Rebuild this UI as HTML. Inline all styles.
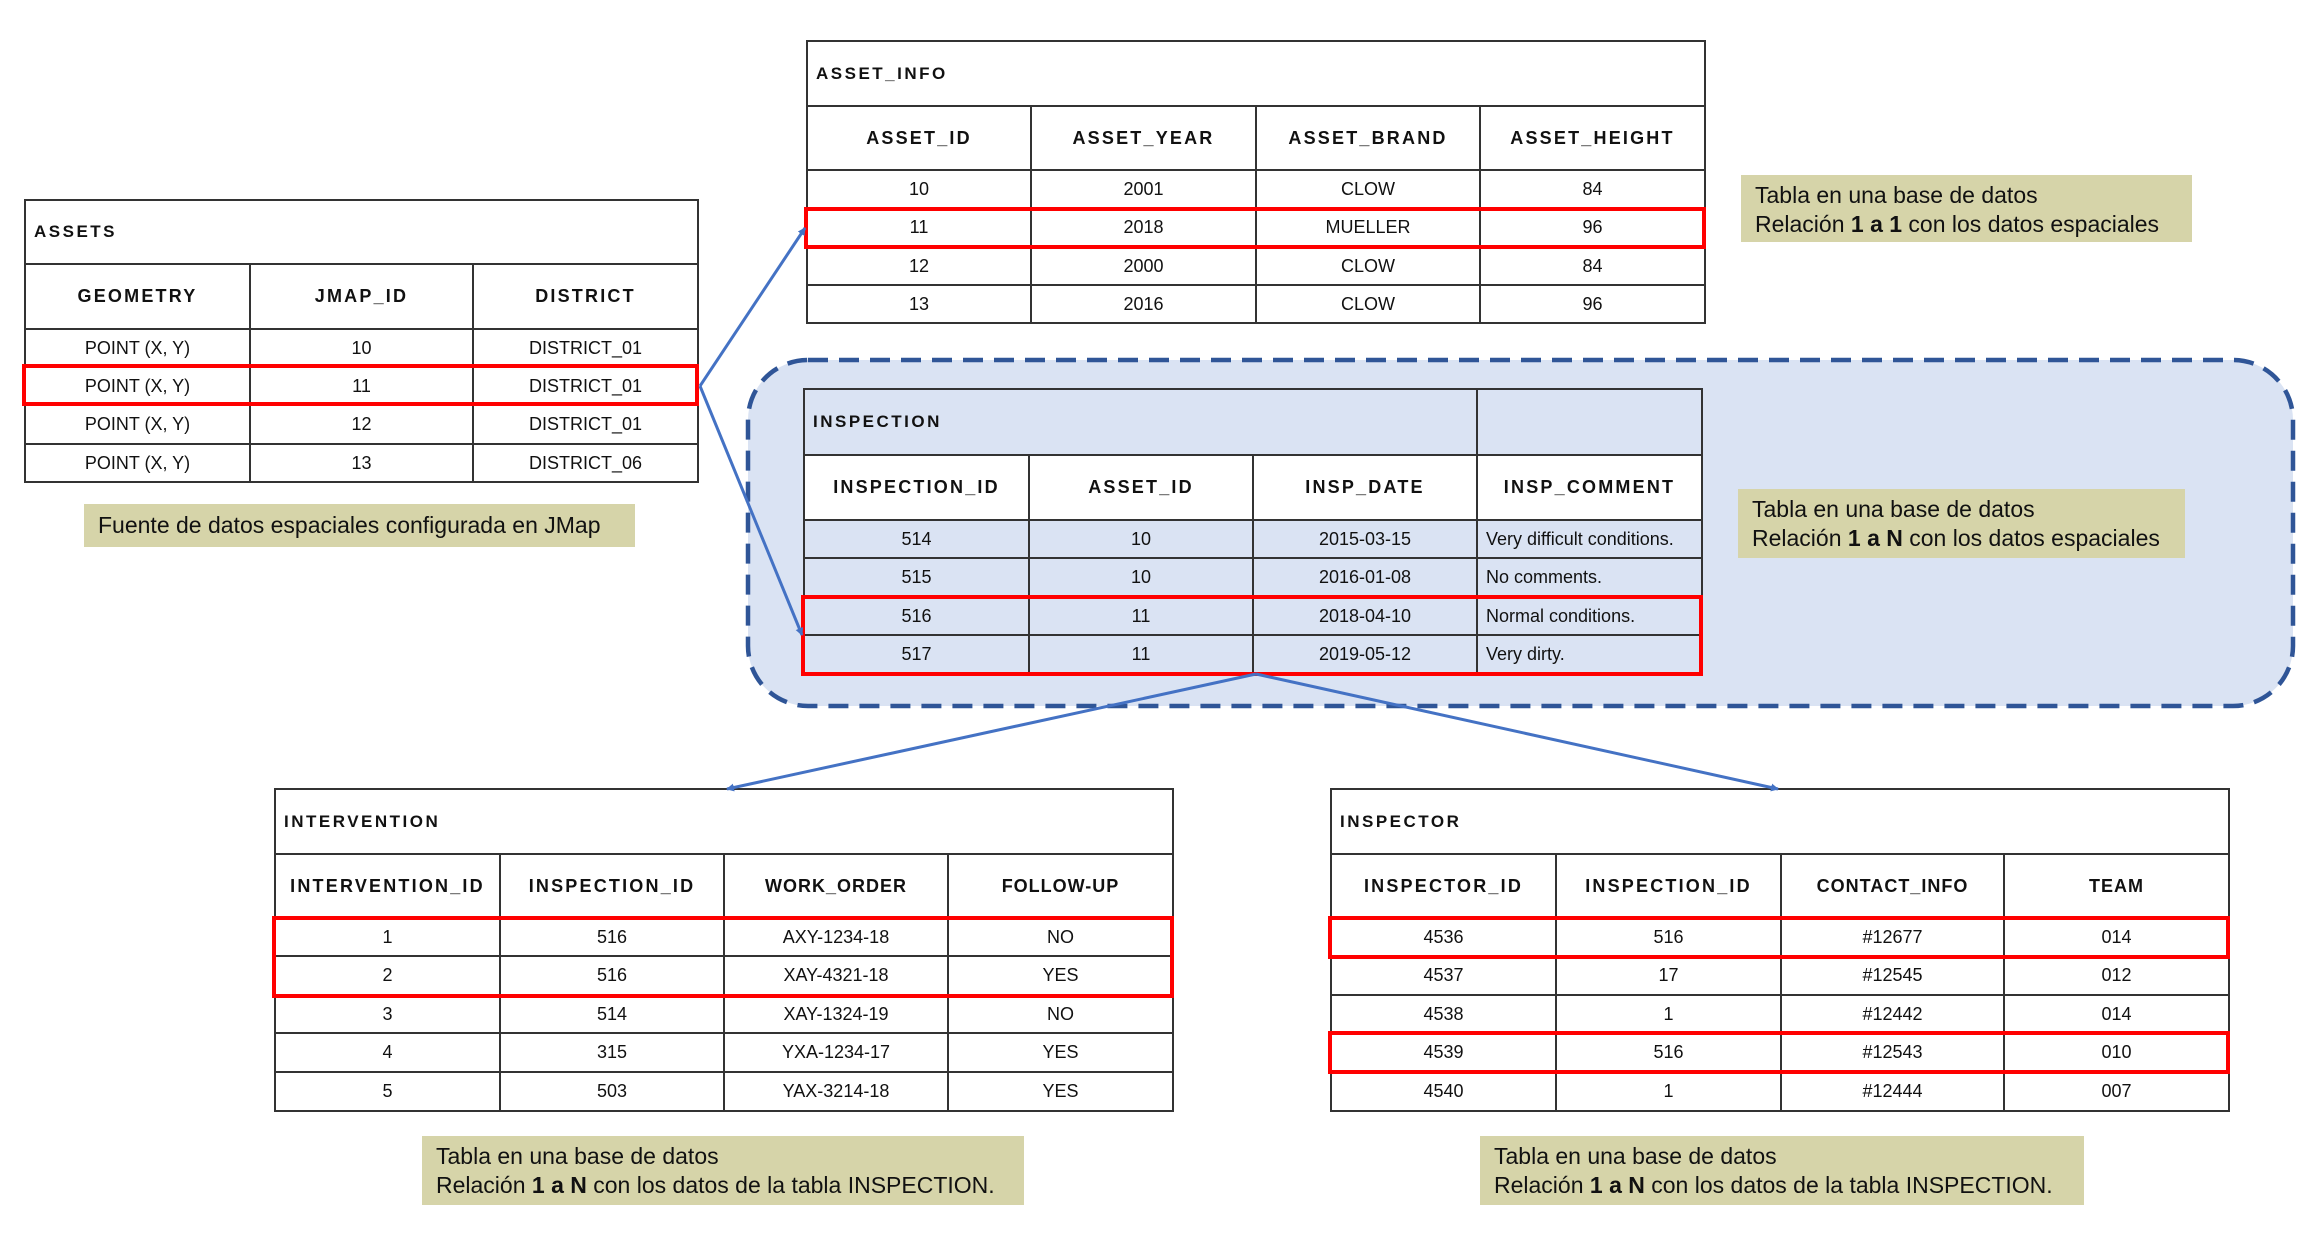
<!DOCTYPE html>
<html><head><meta charset="utf-8"><style>
body{margin:0;width:2304px;height:1247px;background:#fff;position:relative;overflow:hidden;font-family:"Liberation Sans",Arial,sans-serif;color:#111}
table{position:absolute;border-collapse:collapse;table-layout:fixed;border:2px solid #222}
td{border:2px solid #333;text-align:center;font-size:18px;padding:0;white-space:nowrap;overflow:hidden}
td.t{text-align:left;padding-left:8px;font-weight:bold;letter-spacing:2.5px;font-size:17px}
tr.h td{font-weight:bold;letter-spacing:2.2px;font-size:18px}
tr.h td.s{letter-spacing:1px}
td.l{text-align:left;padding-left:8px}
.red{position:absolute;border:4px solid #f00;box-sizing:border-box}
.note{position:absolute;background:#d6d4a9;font-size:23px;line-height:29px;padding:6px 14px;box-sizing:border-box}
</style></head><body>
<svg width="2304" height="1247" style="position:absolute;left:0;top:0" xmlns="http://www.w3.org/2000/svg">
<rect x="748" y="360" width="1545" height="346" rx="60" ry="60" fill="#dae3f3" stroke="#2f5597" stroke-width="4.5" stroke-dasharray="20,11"/>
</svg>

<table style="left:24px;top:199px;width:673px;height:282px">
<colgroup><col style="width:225px"><col style="width:223px"><col style="width:225px"></colgroup>
<tr style="height:64px"><td class="t" colspan="3">ASSETS</td></tr>
<tr class="h" style="height:65px"><td>GEOMETRY</td><td>JMAP_ID</td><td>DISTRICT</td></tr>
<tr style="height:38px"><td>POINT (X, Y)</td><td>10</td><td>DISTRICT_01</td></tr>
<tr style="height:38px"><td>POINT (X, Y)</td><td>11</td><td>DISTRICT_01</td></tr>
<tr style="height:39px"><td>POINT (X, Y)</td><td>12</td><td>DISTRICT_01</td></tr>
<tr style="height:38px"><td>POINT (X, Y)</td><td>13</td><td>DISTRICT_06</td></tr>
</table>
<div class="red" style="left:22px;top:364px;width:677px;height:42px"></div>
<div class="note" style="left:84px;top:504px;width:551px;height:43px;padding-top:7px">Fuente de datos espaciales configurada en JMap</div>

<table style="left:806px;top:40px;width:898px;height:282px">
<colgroup><col style="width:224px"><col style="width:225px"><col style="width:224px"><col style="width:225px"></colgroup>
<tr style="height:65px"><td class="t" colspan="4">ASSET_INFO</td></tr>
<tr class="h" style="height:64px"><td>ASSET_ID</td><td>ASSET_YEAR</td><td>ASSET_BRAND</td><td>ASSET_HEIGHT</td></tr>
<tr style="height:38px"><td>10</td><td>2001</td><td>CLOW</td><td>84</td></tr>
<tr style="height:39px"><td>11</td><td>2018</td><td>MUELLER</td><td>96</td></tr>
<tr style="height:38px"><td>12</td><td>2000</td><td>CLOW</td><td>84</td></tr>
<tr style="height:38px"><td>13</td><td>2016</td><td>CLOW</td><td>96</td></tr>
</table>
<div class="red" style="left:804px;top:207px;width:902px;height:42px"></div>
<div class="note" style="left:1741px;top:175px;width:451px;height:67px">Tabla en una base de datos<br>Relación <b>1 a 1</b> con los datos espaciales</div>

<table style="left:803px;top:388px;width:898px;height:285px">
<colgroup><col style="width:225px"><col style="width:224px"><col style="width:224px"><col style="width:225px"></colgroup>
<tr style="height:66px"><td class="t" colspan="3">INSPECTION</td><td></td></tr>
<tr class="h" style="height:65px;background:#fff"><td>INSPECTION_ID</td><td>ASSET_ID</td><td>INSP_DATE</td><td>INSP_COMMENT</td></tr>
<tr style="height:38px"><td>514</td><td>10</td><td>2015-03-15</td><td class="l">Very difficult conditions.</td></tr>
<tr style="height:39px"><td>515</td><td>10</td><td>2016-01-08</td><td class="l">No comments.</td></tr>
<tr style="height:38px"><td>516</td><td>11</td><td>2018-04-10</td><td class="l">Normal conditions.</td></tr>
<tr style="height:39px"><td>517</td><td>11</td><td>2019-05-12</td><td class="l">Very dirty.</td></tr>
</table>
<div class="red" style="left:801px;top:595px;width:902px;height:81px"></div>
<div class="note" style="left:1738px;top:489px;width:447px;height:69px">Tabla en una base de datos<br>Relación <b>1 a N</b> con los datos espaciales</div>

<table style="left:274px;top:788px;width:898px;height:322px">
<colgroup><col style="width:225px"><col style="width:224px"><col style="width:224px"><col style="width:225px"></colgroup>
<tr style="height:65px"><td class="t" colspan="4">INTERVENTION</td></tr>
<tr class="h" style="height:64px"><td>INTERVENTION_ID</td><td>INSPECTION_ID</td><td class="s">WORK_ORDER</td><td class="s">FOLLOW-UP</td></tr>
<tr style="height:38px"><td>1</td><td>516</td><td>AXY-1234-18</td><td>NO</td></tr>
<tr style="height:39px"><td>2</td><td>516</td><td>XAY-4321-18</td><td>YES</td></tr>
<tr style="height:38px"><td>3</td><td>514</td><td>XAY-1324-19</td><td>NO</td></tr>
<tr style="height:39px"><td>4</td><td>315</td><td>YXA-1234-17</td><td>YES</td></tr>
<tr style="height:39px"><td>5</td><td>503</td><td>YAX-3214-18</td><td>YES</td></tr>
</table>
<div class="red" style="left:272px;top:916px;width:902px;height:82px"></div>
<div class="note" style="left:422px;top:1136px;width:602px;height:69px">Tabla en una base de datos<br>Relación <b>1 a N</b> con los datos de la tabla INSPECTION.</div>

<table style="left:1330px;top:788px;width:898px;height:322px">
<colgroup><col style="width:225px"><col style="width:225px"><col style="width:223px"><col style="width:225px"></colgroup>
<tr style="height:65px"><td class="t" colspan="4">INSPECTOR</td></tr>
<tr class="h" style="height:64px"><td>INSPECTOR_ID</td><td>INSPECTION_ID</td><td class="s">CONTACT_INFO</td><td class="s">TEAM</td></tr>
<tr style="height:38px"><td>4536</td><td>516</td><td>#12677</td><td>014</td></tr>
<tr style="height:39px"><td>4537</td><td>17</td><td>#12545</td><td>012</td></tr>
<tr style="height:38px"><td>4538</td><td>1</td><td>#12442</td><td>014</td></tr>
<tr style="height:39px"><td>4539</td><td>516</td><td>#12543</td><td>010</td></tr>
<tr style="height:39px"><td>4540</td><td>1</td><td>#12444</td><td>007</td></tr>
</table>
<div class="red" style="left:1328px;top:916px;width:902px;height:43px"></div>
<div class="red" style="left:1328px;top:1031px;width:902px;height:43px"></div>
<div class="note" style="left:1480px;top:1136px;width:604px;height:69px">Tabla en una base de datos<br>Relación <b>1 a N</b> con los datos de la tabla INSPECTION.</div>

<svg width="2304" height="1247" style="position:absolute;left:0;top:0" xmlns="http://www.w3.org/2000/svg">
<defs><marker id="a" markerWidth="8" markerHeight="8" refX="7" refY="4" orient="auto" markerUnits="userSpaceOnUse"><path d="M0,0 L8,4 L0,8 z" fill="#4472c4"/></marker></defs>
<g stroke="#4472c4" stroke-width="3" fill="none">
<line x1="700" y1="386" x2="805" y2="228" marker-end="url(#a)"/>
<line x1="700" y1="386" x2="802" y2="635" marker-end="url(#a)"/>
<line x1="1256" y1="674" x2="727" y2="789" marker-end="url(#a)"/>
<line x1="1256" y1="674" x2="1778" y2="789" marker-end="url(#a)"/>
</g></svg>
</body></html>
